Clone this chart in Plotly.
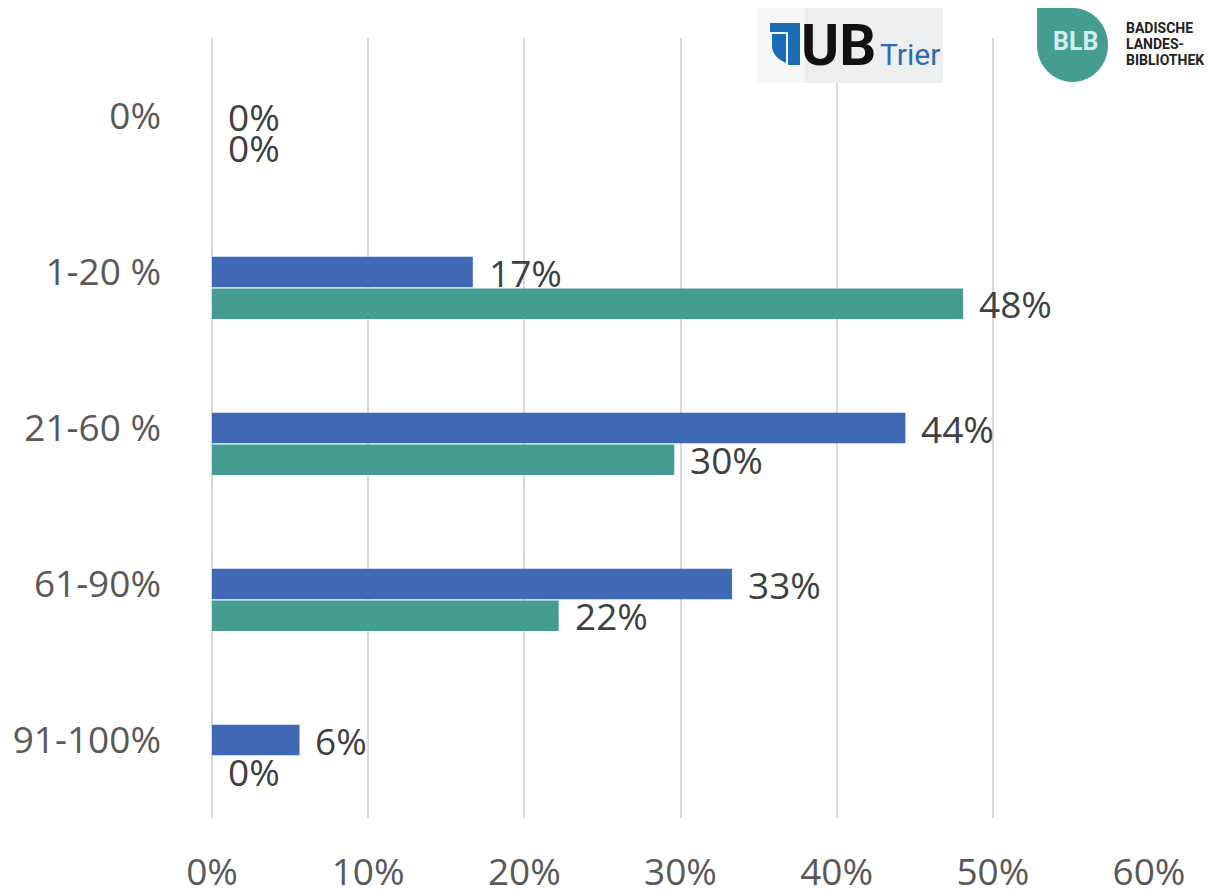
import plotly.graph_objects as go

# ---------------- data ----------------
categories = ["0%", "1-20 %", "21-60 %", "61-90%", "91-100%"]
ub_trier = [0.0, 0.167, 0.444, 0.333, 0.056]   # blue series
blb = [0.0, 0.481, 0.296, 0.222, 0.0]           # teal series
x_ticks = [0, 0.1, 0.2, 0.3, 0.4, 0.5, 0.6]
x_tick_labels = ["0%", "10%", "20%", "30%", "40%", "50%", "60%"]

# ---------------- style ----------------
OFF = 8                                   # page body margin
W, H = 1212 - OFF, 891 - OFF
L, R, T, B = 212, 1149, 38, 818           # plot area in reference pixels
BLUE = "#3F69B6"
TEAL = "#459D92"
GRID = "#D9D9D9"
FONT = "Open Sans, Liberation Sans, sans-serif"
BW = 0.196          # bar width (category units)
GAP = 0.008

def px(x):
    return (x - L) / (R - L)

def py(y):
    return (B - y) / (B - T)

fig = go.Figure()
fig.add_trace(go.Bar(
    y=categories, x=ub_trier, orientation="h", name="UB Trier",
    marker=dict(color=BLUE, line=dict(width=0)),
    width=BW, offset=-BW / 2, hoverinfo="skip",
))
fig.add_trace(go.Bar(
    y=categories, x=blb, orientation="h", name="BLB",
    marker=dict(color=TEAL, line=dict(width=0)),
    width=BW, offset=BW / 2 + GAP, hoverinfo="skip",
))

VAL_FONT = dict(family=FONT, size=37, color="#404040")
annotations = []
for i, v in enumerate(ub_trier):
    annotations.append(dict(x=v, y=i, xref="x", yref="y", text=f"{v:.0%}",
                            showarrow=False, xanchor="left", yanchor="middle",
                            xshift=14, font=VAL_FONT))
for i, v in enumerate(blb):
    annotations.append(dict(x=v, y=i + GAP + BW, xref="x", yref="y",
                            text=f"{v:.0%}", showarrow=False, xanchor="left",
                            yanchor="middle", xshift=14, font=VAL_FONT))

def P(x, y):
    return f"{px(x)},{py(y)}"

def path(points):
    return "M " + " L ".join(P(x, y) for x, y in points) + " Z"

shapes = []
# ---- UB Trier logo ----
shapes.append(dict(type="rect", xref="paper", yref="paper", layer="above",
                   x0=px(757), x1=px(943), y0=py(83), y1=py(8),
                   fillcolor="#ECEEF0", line=dict(width=0)))
shapes.append(dict(type="rect", xref="paper", yref="paper", layer="above",
                   x0=px(757), x1=px(805), y0=py(83), y1=py(8),
                   fillcolor="#F6F7F8", line=dict(width=0)))
shapes.append(dict(type="path", xref="paper", yref="paper", layer="above",
                   path=path([(770, 23), (800, 23), (800, 65), (788, 65), (788, 32), (770, 32)]),
                   fillcolor="#1B6BB5", line=dict(width=0)))
shapes.append(dict(type="path", xref="paper", yref="paper", layer="above",
                   path=(f"M {P(772, 34)} L {P(786, 34)} L {P(786, 63)} "
                         f"Q {P(774, 58)} {P(772, 48)} Z"),
                   fillcolor="#1B6BB5", line=dict(width=0)))
annotations.append(dict(x=px(799), y=py(45), xref="paper", yref="paper", text="<b>UB</b>",
                        showarrow=False, xanchor="left", yanchor="middle",
                        font=dict(family="Roboto", size=58, color="#111111")))
annotations.append(dict(x=px(878), y=py(54), xref="paper", yref="paper", text="Trier",
                        showarrow=False, xanchor="left", yanchor="middle",
                        font=dict(family="Roboto", size=30, color="#2A6DB5")))

# ---- BLB logo ----
shapes.append(dict(type="rect", xref="paper", yref="paper", layer="above",
                   x0=px(1030), x1=px(1215), y0=py(86), y1=py(0),
                   fillcolor="white", line=dict(width=0)))
lx0, lx1, ly0, ly1 = 1037, 1108, 8, 82
cx, cy = (lx0 + lx1) / 2, (ly0 + ly1) / 2
rx, ry = (lx1 - lx0) / 2, (ly1 - ly0) / 2
k = 0.5523
blb_path = (f"M {P(lx0, ly0)} L {P(cx, ly0)} "
            f"C {P(cx + k * rx, ly0)} {P(lx1, cy - k * ry)} {P(lx1, cy)} "
            f"C {P(lx1, cy + k * ry)} {P(cx + k * rx, ly1)} {P(cx, ly1)} "
            f"C {P(cx - k * rx, ly1)} {P(lx0, cy + k * ry)} {P(lx0, cy)} Z")
shapes.append(dict(type="path", xref="paper", yref="paper", layer="above",
                   path=blb_path, fillcolor=TEAL, line=dict(width=0)))
annotations.append(dict(x=px(1075), y=py(42), xref="paper", yref="paper", text="<b>BLB</b>",
                        showarrow=False, xanchor="center", yanchor="middle",
                        font=dict(family="Roboto", size=25, color="#D6ECE8")))
for txt, yy in [("BADISCHE", 28), ("LANDES-", 44), ("BIBLIOTHEK", 60)]:
    annotations.append(dict(x=px(1124), y=py(yy), xref="paper", yref="paper",
                            text=f"<b>{txt}</b>", showarrow=False, xanchor="left",
                            yanchor="middle",
                            font=dict(family="Roboto", size=14, color="#222222")))

fig.update_layout(
    width=W, height=H,
    margin=dict(l=L - OFF, r=1212 - R, t=T - OFF, b=891 - B, pad=0),
    paper_bgcolor="white", plot_bgcolor="white",
    showlegend=False,
    barmode="overlay",
    font=dict(family=FONT),
    xaxis=dict(range=[0, 0.6], tickvals=x_ticks, ticktext=x_tick_labels,
               showgrid=True, gridcolor=GRID, gridwidth=2,
               zeroline=True, zerolinecolor=GRID, zerolinewidth=2,
               showline=False, ticks="", ticklabelstandoff=29, automargin=False,
               tickfont=dict(family=FONT, size=37, color="#595959")),
    yaxis=dict(type="category", categoryorder="array", categoryarray=categories,
               range=[4.5, -0.5], showgrid=False, zeroline=False, showline=False,
               ticks="", ticklabelstandoff=50, automargin=False,
               tickfont=dict(family=FONT, size=37, color="#595959")),
    annotations=annotations,
    shapes=shapes,
)

fig.write_html("out.html")
